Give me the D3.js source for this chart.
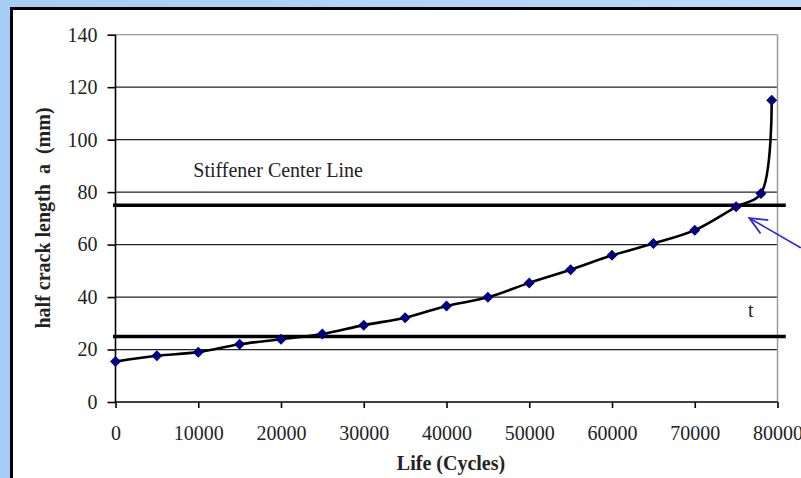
<!DOCTYPE html>
<html><head><meta charset="utf-8">
<script src="https://cdn.jsdelivr.net/npm/d3@7"></script>
<style>html,body{margin:0;padding:0;background:#b0d2f6;}svg{display:block;}</style>
</head><body>
<svg id="c" width="801" height="478"></svg>
<script>
const cycles = [0,5000,10000,15000,20000,25000,30000,35000,40000,45000,50000,55000,60000,65000,70000,75000,78000,79300];
const crack  = [15.4,17.6,19.0,22.0,23.9,25.9,29.3,32.1,36.6,39.9,45.4,50.4,55.9,60.4,65.5,74.4,79.5,115.0];
const xTicks = [0,10000,20000,30000,40000,50000,60000,70000,80000];
const yTicks = [0,20,40,60,80,100,120,140];
const refLines = [75,25];
const annotation = "Stiffener Center Line";
const xTitle = "Life (Cycles)";
const yTitle = "half crack length  a  (mm)";

const svg = d3.select("#c");
const defs = svg.append("defs");
const g = defs.append("linearGradient").attr("id","bg").attr("x1","0").attr("y1","0").attr("x2","1").attr("y2","0");
g.append("stop").attr("offset","0").attr("stop-color","#a6cdf5");
g.append("stop").attr("offset","1").attr("stop-color","#bcdaf9");
svg.append("rect").attr("width",801).attr("height",478).attr("fill","url(#bg)");
svg.append("rect").attr("x",11.5).attr("y",8.5).attr("width",820).attr("height",500)
  .attr("fill","#fff").attr("stroke","#000").attr("stroke-width",3);

const L=115.5, R=777.5, T=34.7, B=402;
const x = d3.scaleLinear().domain([0,80000]).range([L,R]);
const y = d3.scaleLinear().domain([0,140]).range([B,T]);
const font = "'Liberation Serif','Times New Roman',serif";

// gridlines
svg.append("g").selectAll("line").data(yTicks.filter(d=>d>0)).join("line")
  .attr("x1",L).attr("x2",R).attr("y1",d=>y(d)).attr("y2",d=>y(d))
  .attr("stroke",d=>d===140?"#9a9a9a":"#222").attr("stroke-width",1.3);
// right border
svg.append("line").attr("x1",R).attr("x2",R).attr("y1",T).attr("y2",B).attr("stroke","#9a9a9a").attr("stroke-width",1.5);

// leftover text box
svg.append("rect").attr("x",x(47400)).attr("y",y(39.6)).attr("width",x(76400)-x(47400)).attr("height",y(26.4)-y(39.6)).attr("fill","#fff");
svg.append("clipPath").attr("id","tc").append("rect").attr("x",x(76450)).attr("y",y(39.6)).attr("width",12).attr("height",40);
svg.append("text").attr("x",x(76450)).attr("y",y(32.4)).attr("clip-path","url(#tc)")
  .attr("font-family",font).attr("font-size",20).attr("fill","#222").text("t");

// axes
const yAxis = svg.append("g").attr("transform",`translate(${L},0)`)
  .call(d3.axisLeft(y).tickValues(yTicks).tickSize(8).tickPadding(10).tickFormat(d3.format("d")));
const xAxis = svg.append("g").attr("transform",`translate(0,${B})`)
  .call(d3.axisBottom(x).tickValues(xTicks).tickSize(6).tickPadding(18).tickFormat(d3.format("d")));
[yAxis,xAxis].forEach(a=>{
  a.select(".domain").attr("stroke","#000").attr("stroke-width",1.6);
  a.selectAll(".tick line").attr("stroke","#000").attr("stroke-width",1.6);
  a.selectAll("text").attr("font-family",font).attr("font-size",20).attr("fill","#222");
});
xAxis.select(".domain").attr("d",`M${L},0H${R}`);
yAxis.select(".domain").attr("d",`M0,${B}V${T}`);

// reference lines
svg.append("g").selectAll("line").data(refLines).join("line")
  .attr("x1",x(-300)).attr("x2",x(81000)).attr("y1",d=>y(d)).attr("y2",d=>y(d))
  .attr("stroke","#000").attr("stroke-width",3.5);

// annotation
svg.append("text").attr("x",x(9400)).attr("y",y(85.6)).attr("font-family",font).attr("font-size",20).attr("fill","#222").text(annotation);

// curve
const data = cycles.map((c,i)=>({c,a:crack[i]}));
svg.append("path").datum(data)
  .attr("d",d3.line().x(d=>x(d.c)).y(d=>y(d.a)).curve(d3.curveCatmullRom.alpha(0.5)))
  .attr("fill","none").attr("stroke","#000").attr("stroke-width",2.6);
const r=5.5;
svg.append("g").selectAll("path").data(data).join("path")
  .attr("transform",d=>`translate(${x(d.c)},${y(d.a)})`)
  .attr("d",`M0,${-r}L${r},0L0,${r}L${-r},0Z`).attr("fill","#000080");

// arrow
const tip={c:76600,a:70.1}, tail={c:82800,a:58.8};
const tx=x(tip.c), ty=y(tip.a), sx=x(tail.c), sy=y(tail.a);
const ang=Math.atan2(sy-ty,sx-tx), hl=19, hw=0.42;
svg.append("line").attr("x1",sx).attr("y1",sy).attr("x2",tx).attr("y2",ty).attr("stroke","#2a2ad6").attr("stroke-width",1.6);
svg.append("path").attr("d",`M${tx+hl*Math.cos(ang-hw)},${ty+hl*Math.sin(ang-hw)}L${tx},${ty}L${tx+hl*Math.cos(ang+hw)},${ty+hl*Math.sin(ang+hw)}`)
  .attr("fill","none").attr("stroke","#2a2ad6").attr("stroke-width",1.8);

// titles
svg.append("text").attr("x",451).attr("y",470).attr("text-anchor","middle").attr("font-family",font)
  .attr("font-weight","bold").attr("font-size",20).attr("fill","#222").text(xTitle);
svg.append("text").attr("transform","translate(50,218) rotate(-90)").attr("text-anchor","middle").attr("font-family",font)
  .attr("font-weight","bold").attr("font-size",20).attr("fill","#222").attr("xml:space","preserve").style("white-space","pre").text(yTitle);
</script>
</body></html>
